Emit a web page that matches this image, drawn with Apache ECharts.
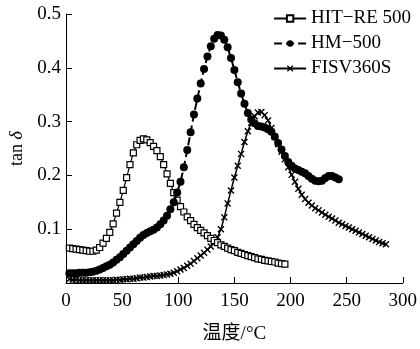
<!DOCTYPE html>
<html>
<head>
<meta charset="utf-8">
<script src="https://cdn.jsdelivr.net/npm/echarts@6/dist/echarts.min.js"></script>
<style>
  html, body { margin: 0; padding: 0; background: #fff; }
  #main { width: 420px; height: 349px; }
</style>
</head>
<body>
<div id="main"></div>
<script>
// sample temperatures (°C), shared by all three curves
const temps = [
  3, 6, 9, 12, 15, 18, 21, 24, 27, 30,
  33, 36, 39, 42, 45, 48, 51, 54, 57, 60,
  63, 66, 69, 72, 75, 78, 81, 84, 87, 90,
  93, 96, 99, 102, 105, 108, 111, 114, 117, 120,
  123, 126, 129, 132, 135, 138, 141, 144, 147, 150,
  153, 156, 159, 162, 165, 168, 171, 174, 177, 180,
  183, 186, 189, 192, 195, 198, 201, 204, 207, 210,
  213, 216, 219, 222, 225, 228, 231, 234, 237, 240,
  243, 246, 249, 252, 255, 258, 261, 264, 267, 270,
  273, 276, 279, 282, 285,
];

// tan δ, one value per temperature above
const hitRe500 = [
  0.065, 0.064, 0.063, 0.062, 0.061, 0.060, 0.059, 0.059, 0.061, 0.066,
  0.074, 0.083, 0.094, 0.110, 0.130, 0.150, 0.172, 0.196, 0.220, 0.242,
  0.257, 0.265, 0.268, 0.266, 0.261, 0.254, 0.246, 0.235, 0.220, 0.203,
  0.185, 0.168, 0.154, 0.142, 0.132, 0.123, 0.116, 0.109, 0.103, 0.098,
  0.093, 0.088, 0.083, 0.079, 0.075, 0.071, 0.068, 0.065, 0.062, 0.060,
  0.057, 0.055, 0.053, 0.051, 0.049, 0.047, 0.045, 0.044, 0.042, 0.041,
  0.040, 0.039, 0.037, 0.036, 0.035,
];
const hm500 = [
  0.018, 0.018, 0.018, 0.019, 0.019, 0.019, 0.020, 0.021, 0.023, 0.025,
  0.028, 0.031, 0.034, 0.038, 0.043, 0.048, 0.054, 0.060, 0.066, 0.072,
  0.078, 0.084, 0.089, 0.093, 0.096, 0.099, 0.103, 0.109, 0.116, 0.125,
  0.137, 0.150, 0.168, 0.188, 0.215, 0.247, 0.280, 0.313, 0.343, 0.371,
  0.398, 0.421, 0.440, 0.454, 0.461, 0.460, 0.452, 0.438, 0.418, 0.396,
  0.373, 0.352, 0.333, 0.316, 0.304, 0.297, 0.292, 0.291, 0.289, 0.286,
  0.281, 0.272, 0.260, 0.248, 0.236, 0.225, 0.218, 0.213, 0.210, 0.207,
  0.204, 0.199, 0.194, 0.190, 0.189, 0.190, 0.195, 0.199, 0.199, 0.196,
  0.193,
];
const fisv360s = [
  0.007, 0.006, 0.006, 0.005, 0.005, 0.005, 0.005, 0.005, 0.005, 0.005,
  0.005, 0.005, 0.005, 0.005, 0.006, 0.006, 0.007, 0.007, 0.008, 0.008,
  0.009, 0.010, 0.010, 0.011, 0.012, 0.013, 0.013, 0.014, 0.015, 0.016,
  0.017, 0.019, 0.022, 0.025, 0.028, 0.032, 0.036, 0.041, 0.046, 0.051,
  0.056, 0.062, 0.068, 0.076, 0.085, 0.100, 0.122, 0.148, 0.172, 0.196,
  0.218, 0.240, 0.262, 0.282, 0.298, 0.310, 0.317, 0.318, 0.312, 0.302,
  0.288, 0.272, 0.258, 0.244, 0.230, 0.215, 0.201, 0.188, 0.175, 0.164,
  0.156, 0.149, 0.144, 0.139, 0.135, 0.131, 0.127, 0.123, 0.120, 0.116,
  0.112, 0.109, 0.106, 0.103, 0.100, 0.097, 0.094, 0.091, 0.088, 0.085,
  0.082, 0.079, 0.076, 0.074, 0.072,
];

const seriesNames = ['HIT\u2212RE 500', 'HM\u2212500', 'FISV360S'];

function pairs(ys) {
  return ys.map((y, i) => [temps[i], y]);
}

const serif = '"Liberation Serif", "DejaVu Serif", serif';
const crossMark = 'path://M0,1.4L1.4,0L5,3.6L8.6,0L10,1.4L6.4,5L10,8.6L8.6,10L5,6.4L1.4,10L0,8.6L3.6,5Z';

const chart = echarts.init(document.getElementById('main'), null, { renderer: 'canvas' });

const option = {
  animation: false,
  backgroundColor: '#fff',
  textStyle: { fontFamily: serif, color: '#000' },
  grid: { left: 63, right: 17, top: 14, bottom: 65 },
  legend: {
    orient: 'vertical',
    right: 4,
    top: 4,
    itemWidth: 32,
    itemHeight: 8,
    itemGap: 6,
    textStyle: { fontFamily: serif, fontSize: 19, color: '#000' },
    data: seriesNames,
  },
  xAxis: {
    type: 'value',
    min: 0,
    max: 300,
    interval: 50,
    name: '温度/°C',
    nameLocation: 'middle',
    nameGap: 42,
    nameTextStyle: { fontFamily: serif + ', "Noto Sans CJK SC"', fontSize: 19, color: '#000' },
    axisLine: { lineStyle: { color: '#000', width: 1 } },
    axisTick: { inside: true, length: 6, lineStyle: { color: '#000' } },
    axisLabel: { fontFamily: serif, fontSize: 19, color: '#000', margin: 9 },
    splitLine: { show: false },
  },
  yAxis: {
    type: 'value',
    min: 0,
    max: 0.5,
    interval: 0.1,
    name: '{a|tan }{b|δ}',
    nameLocation: 'middle',
    nameGap: 40,
    nameRotate: 90,
    nameTextStyle: {
      rich: {
        a: { fontFamily: serif, fontSize: 18, color: '#000' },
        b: { fontFamily: serif, fontSize: 18, fontStyle: 'italic', color: '#000' },
      },
    },
    axisLine: { show: true, lineStyle: { color: '#000', width: 1 } },
    axisTick: { show: true, inside: true, length: 6, lineStyle: { color: '#000' } },
    axisLabel: { fontFamily: serif, fontSize: 19, color: '#000', margin: 5, showMinLabel: false },
    splitLine: { show: false },
  },
  series: [
    {
      name: seriesNames[0],
      type: 'line',
      data: pairs(hitRe500),
      symbol: 'rect',
      symbolSize: 6,
      showAllSymbol: true,
      itemStyle: { color: '#fff', borderColor: '#000', borderWidth: 1.2 },
      lineStyle: { color: '#000', width: 1.2 },
      z: 3,
    },
    {
      name: seriesNames[1],
      type: 'line',
      data: pairs(hm500),
      symbol: 'circle',
      symbolSize: 8,
      showAllSymbol: true,
      itemStyle: { color: '#000' },
      lineStyle: { color: '#000', width: 2, type: 'dashed' },
      z: 4,
    },
    {
      name: seriesNames[2],
      type: 'line',
      data: pairs(fisv360s),
      symbol: crossMark,
      symbolSize: 7,
      showAllSymbol: true,
      itemStyle: { color: '#000' },
      lineStyle: { color: '#000', width: 1.5 },
      z: 2,
    },
  ],
};

chart.setOption(option);
</script>
</body>
</html>
